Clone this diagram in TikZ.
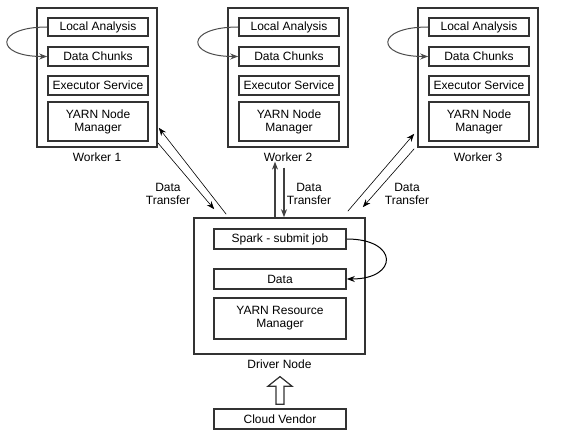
\documentclass[tikz,border=0pt]{standalone}
\usepackage{fontspec}
\setmainfont{Liberation Sans}
\usetikzlibrary{arrows.meta, calc}

\begin{document}
\begin{tikzpicture}[x=1pt, y=-1pt,
        font=\fontsize{12}{13}\selectfont,
        box/.style 2 args={draw=black!80, line width=1.6pt, minimum width=#1, minimum height=#2, inner sep=0pt, align=center},
        txt/.style={inner sep=0pt, align=center},
        link/.style={-{Stealth[length=8pt, width=6pt]}, line width=0.6pt},
        loopback/.style={-{Stealth[length=8pt, width=6pt]}, draw=black!70, line width=1pt}]
    \useasboundingbox (0,0) rectangle (563,438);

    % workers
    \foreach \n/\x in {1/97, 2/288, 3/478} {
        \node[box={120}{139}] (w\n) at (\x,77.5) {};
        \node[box={100}{18}] (la\n) at (\x+1,27) {Local Analysis};
        \node[box={100}{19}] (dc\n) at (\x+1,56.5) {Data Chunks};
        \node[box={100}{19}] (es\n) at (\x+1,85.5) {Executor Service};
        \node[box={100}{39}] (ym\n) at (\x+1,121.5) {YARN Node\\Manager};
        \node[txt] (lbl\n) at (\x,157) {Worker \n};
        \draw[loopback] (la\n.west) .. controls +(-53,0) and +(-53,0) .. (dc\n.west);
    }

    % driver
    \node[box={171}{136}] (drv) at (279.5,286) {};
    \node[box={132}{20}] (spark) at (280,239) {Spark - submit job};
    \node[box={132}{20}] (data) at (280,279) {Data};
    \node[box={132}{41}] (yrm) at (280,318.5) {YARN Resource\\Manager};
    \node[txt] (dlbl) at (279.5,364) {Driver Node};
    \node[box={132}{20}] (cv) at (280,419) {Cloud Vendor};
    \draw[loopback, draw=black] (spark.east) .. controls +(52,0) and +(52,0) .. (data.east);

    % data transfer
    \draw[link] ($(drv.north west)+(33,-3)$) -- ($(w1.south east)+(1,-20)$);
    \draw[link] ($(w1.south east)+(0,-5)$) -- ($(drv.north west)+(21,-8)$);
    \draw[link, draw=black!75, line width=1.4pt] ($(drv.north)+(-4.5,0)$) -- ($(lbl2.south -| drv.north)+(-4.5,0)$);
    \draw[link, draw=black!75, line width=1.4pt] ($(lbl2.south -| drv.north)+(4.5,6)$) -- ($(drv.north)+(4.5,0)$);
    \draw[link] ($(drv.north east)+(-18,-6)$) -- ($(w3.south west)+(-3,-14)$);
    \draw[link] ($(w3.south west)+(-3,1)$) -- ($(drv.north east)+(-3,-10)$);
    \node[txt] (dt1) at (168,194) {Data\\Transfer};
    \node[txt] (dt2) at (309,194) {Data\\Transfer};
    \node[txt] (dt3) at (407,194) {Data\\Transfer};

    % cloud vendor to driver
    \draw[line width=1.2pt, draw=black!80] ($(cv.north)+(-4,-4)$) -- ++(0,-18) -- ++(-8,0) -- ($(dlbl.south)+(0.5,8)$)
        -- ($(cv.north)+(12,-22)$) -- ++(-8,0) -- ++(0,18) -- cycle;
\end{tikzpicture}
\end{document}
